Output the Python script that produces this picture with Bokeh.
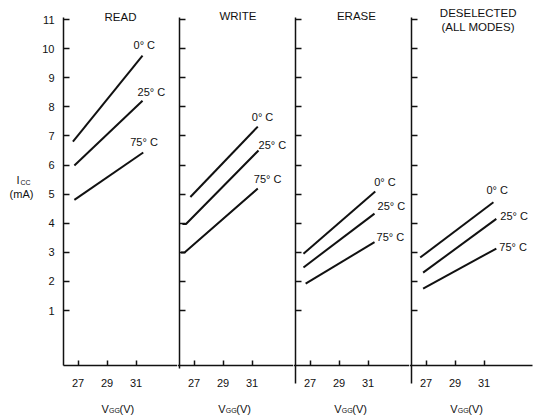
from bokeh.plotting import figure
from bokeh.layouts import row
from bokeh.models import Range1d, FixedTicker
from bokeh.core.properties import value
from bokeh.embed import file_html
from bokeh.resources import INLINE

# ---------------- data ----------------
panel_titles = [["READ"], ["WRITE"], ["ERASE"], ["DESELECTED", "(ALL MODES)"]]
temp_labels = ["0° C", "25° C", "75° C"]
vgg_ticks = [27, 29, 31]
icc_ticks = [1, 2, 3, 4, 5, 6, 7, 8, 9, 10, 11]

# V_GG (V) and I_CC (mA) per panel, one list per temperature (0, 25, 75 °C)
read_vgg = [[26.65, 31.45], [26.75, 31.45], [26.75, 31.5]]
read_icc = [[6.8, 9.76], [5.98, 8.21], [4.8, 6.43]]
write_vgg = [[26.75, 31.4], [26.2, 26.45, 31.45], [26.1, 26.35, 31.4]]
write_icc = [[4.9, 7.32], [3.97, 3.97, 6.5], [2.99, 2.99, 5.19]]
erase_vgg = [[26.55, 31.5], [26.55, 31.45], [26.7, 31.45]]
erase_icc = [[2.95, 5.09], [2.48, 4.33], [1.92, 3.35]]
desel_vgg = [[26.6, 31.65], [26.8, 31.85], [26.8, 31.85]]
desel_icc = [[2.82, 4.72], [2.3, 4.15], [1.75, 3.13]]

panel_vgg = [read_vgg, write_vgg, erase_vgg, desel_vgg]
panel_icc = [read_icc, write_icc, erase_icc, desel_icc]

# ---------------- styling / layout ----------------
FONT = "Liberation Sans"
INK = "#111111"
PX_PER_V = 14.5
PX_PER_MA = 29.1
X0 = 26.0
BASE = -0.9            # baseline (x axis) level
AXIS_TOP = 11.06
FRAME_H = 417
TOP_PX = 19            # pixel row of the 11 mA tick
Y_END = 11 + TOP_PX / PX_PER_MA
Y_START = 11 - (FRAME_H - TOP_PX) / PX_PER_MA
left_px = [63, 2, 2, 2]          # room left of each panel's axis
right_px = [114, 114, 114, 126]  # room right of each panel's axis
axis_right_px = [114, 114, 114, 121]
axis_bottoms = [-0.9, -1.0, -1.5, -1.5]
# label offsets in screen px (dx right, dy down) from each line's end
label_offsets = [
    [(-9, -11), (-5, -9), (-13, -10)],
    [(-6, -10), (0, -5), (-4, -10)],
    [(-1, -9), (3, -8), (2, -5)],
    [(-7, -12), (4, -3), (3, -2)],
]
title_x = [29.93, 30.03, 30.2, 30.6]
title_y = [[11.10], [11.12], [11.12], [11.21, 10.73]]
xlab_x = [29.8, 29.85, 29.85, 29.85]
XLAB_Y = -2.37


def txt(p, x, y, s, size="11px", align="left", dx=0, dy=0):
    p.text(x=[x], y=[y], text=[s], x_offset=dx, y_offset=dy,
           text_font=value(FONT), text_font_size=size, text_color=INK,
           text_align=align, text_baseline="middle")


figs = []
for i in range(4):
    x_start = X0 - left_px[i] / PX_PER_V
    x_end = X0 + right_px[i] / PX_PER_V
    p = figure(frame_width=left_px[i] + right_px[i], frame_height=FRAME_H,
               x_range=Range1d(x_start, x_end),
               y_range=Range1d(Y_START, Y_END),
               output_backend="svg", toolbar_location=None,
               min_border=0, min_border_left=0, min_border_right=0,
               min_border_top=0, min_border_bottom=0,
               background_fill_color="white", border_fill_color="white",
               outline_line_color=None)
    p.grid.visible = False

    xa = p.xaxis[0]
    xa.fixed_location = BASE
    xa.bounds = (X0 if i == 0 else x_start, X0 + axis_right_px[i] / PX_PER_V)
    xa.ticker = FixedTicker(ticks=vgg_ticks)
    xa.major_tick_in = 5
    xa.major_tick_out = 0
    xa.minor_tick_line_color = None
    xa.axis_line_width = 1.5
    xa.axis_line_color = INK
    xa.major_tick_line_color = INK
    xa.major_tick_line_width = 1.5
    xa.major_label_text_font = FONT
    xa.major_label_text_font_size = "11px"
    xa.major_label_text_color = INK
    xa.major_label_standoff = 13

    ya = p.yaxis[0]
    ya.fixed_location = X0
    ya.ticker = FixedTicker(ticks=icc_ticks)
    ya.bounds = (axis_bottoms[i], AXIS_TOP)
    ya.major_tick_in = 6
    ya.major_tick_out = 0
    ya.minor_tick_line_color = None
    ya.axis_line_width = 1.5
    ya.axis_line_color = INK
    ya.major_tick_line_color = INK
    ya.major_tick_line_width = 1.5
    ya.major_label_text_font = FONT
    ya.major_label_text_font_size = "11px"
    ya.major_label_standoff = 9
    ya.major_label_text_color = INK if i == 0 else None

    # curves and temperature labels
    for k in range(3):
        xs = panel_vgg[i][k]
        ys = panel_icc[i][k]
        p.line(xs, ys, line_color=INK, line_width=2)
        dx, dy = label_offsets[i][k]
        txt(p, xs[-1], ys[-1], temp_labels[k], dx=dx, dy=dy)

    # panel title
    for t, ty in zip(panel_titles[i], title_y[i]):
        txt(p, title_x[i], ty, t, size="11.5px", align="center")

    # x axis title V_GG(V)
    txt(p, xlab_x[i], XLAB_Y, "V", dx=-17)
    txt(p, xlab_x[i], XLAB_Y, "GG", size="7px", dx=-9.5, dy=2)
    txt(p, xlab_x[i], XLAB_Y, "(V)", dx=1)

    if i == 0:
        # y axis title I_CC (mA)
        txt(p, X0, 5.47, "I", dx=-47)
        txt(p, X0, 5.47, "CC", size="7px", dx=-43, dy=2)
        txt(p, X0, 4.99, "(mA)", align="center", dx=-42)
    figs.append(p)

layout = row(*figs)
open("out.html", "w").write(file_html(layout, INLINE))
